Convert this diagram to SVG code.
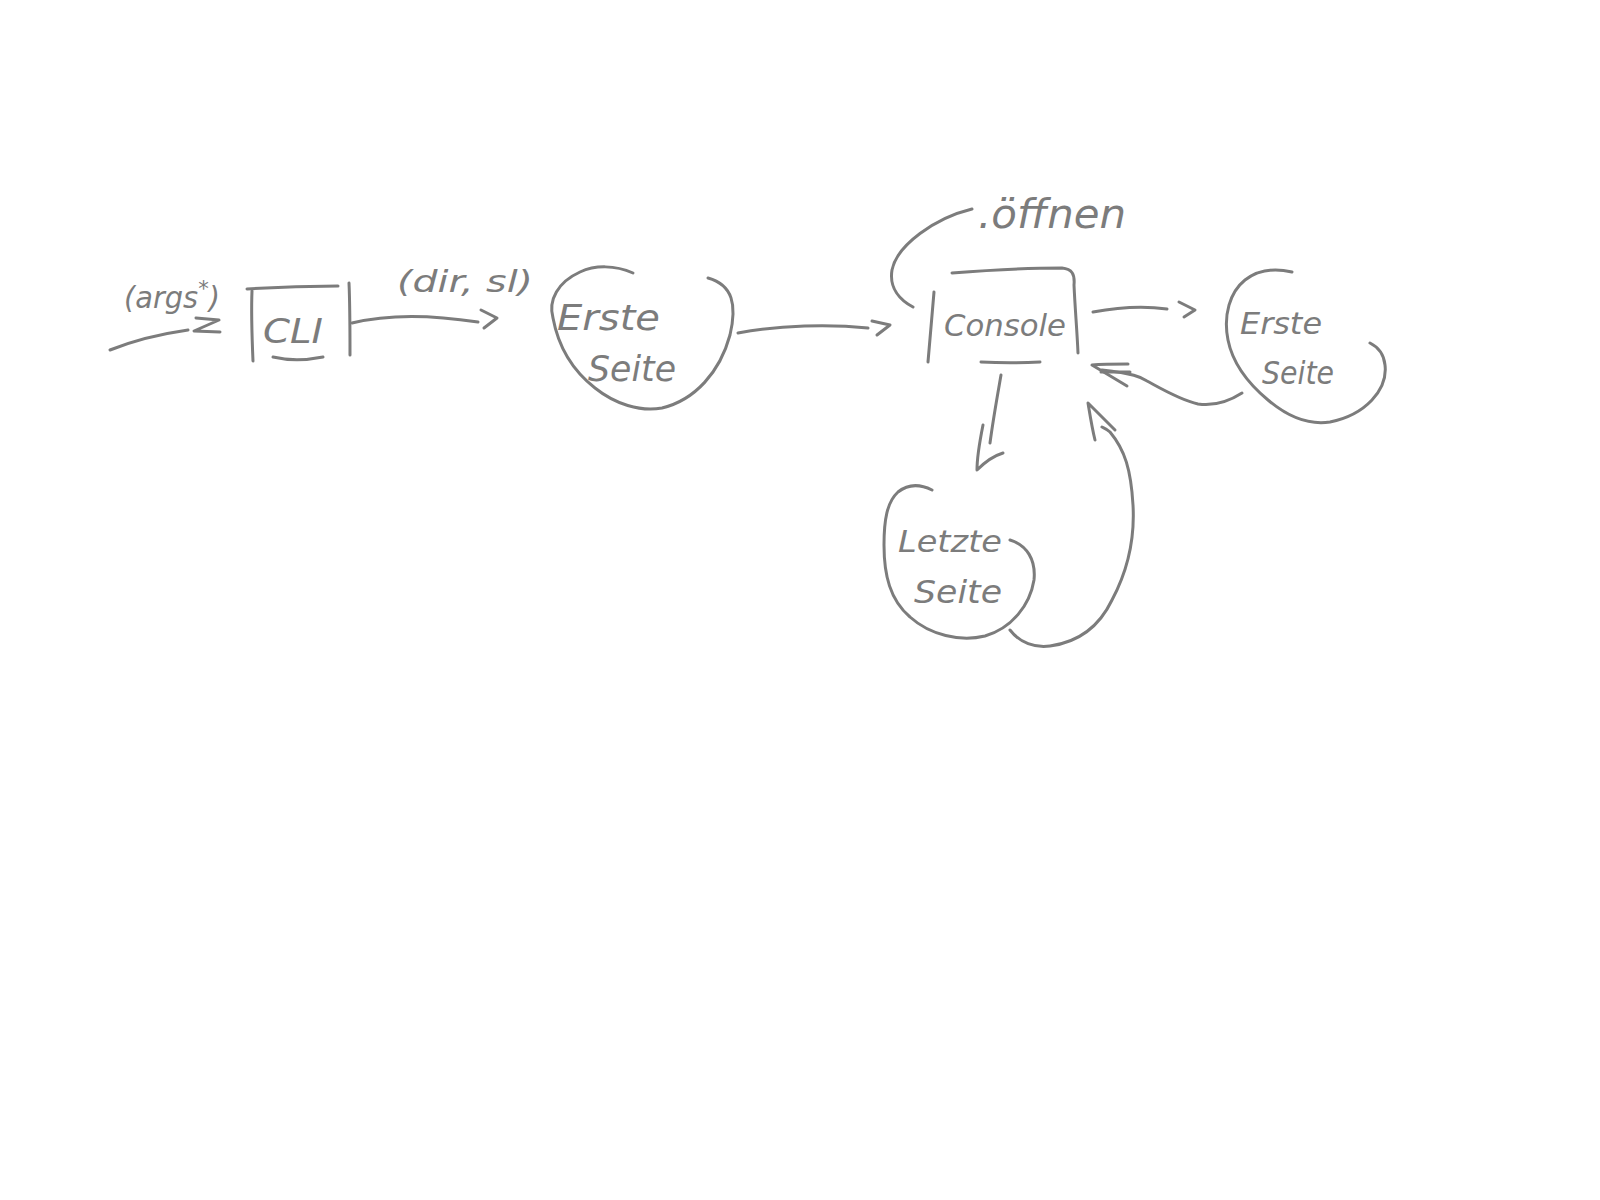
<svg xmlns="http://www.w3.org/2000/svg" width="1600" height="1200" viewBox="0 0 1600 1200">
  <style>
    .ink { fill: none; stroke: #7c7c7c; stroke-width: 3; stroke-linecap: round; stroke-linejoin: round; }
    .hand { fill: #7c7c7c; font-family: "DejaVu Sans", "Liberation Sans", sans-serif; font-style: italic; }
  </style>
  <rect width="1600" height="1200" fill="#ffffff"/>

  <!-- CLI box -->
  <g id="cli">
    <path class="ink" d="M247,289 C277,287 310,286 338,286"/>
    <path class="ink" d="M252,291 C251,315 252,338 253,361"/>
    <path class="ink" d="M349,283 C350,305 350,330 350,355"/>
    <path class="ink" d="M273,357 C290,361 308,360 323,357"/>
    <text class="hand" x="263" y="343" font-size="34" textLength="60" lengthAdjust="spacingAndGlyphs">CLI</text>
  </g>

  <!-- first page, left -->
  <g id="erste-seite-1">
    <path class="ink" d="M633,273 C615,265 595,265 580,272 C558,282 548,300 553,318 C558,345 572,370 595,388 C615,404 640,412 662,408 C695,400 720,372 730,335 C737,305 733,285 708,278"/>
    <text class="hand" x="557" y="330" font-size="36" textLength="103" lengthAdjust="spacingAndGlyphs">Erste</text>
    <text class="hand" x="588" y="381" font-size="36" textLength="88" lengthAdjust="spacingAndGlyphs">Seite</text>
  </g>

  <!-- Console box -->
  <g id="console">
    <path class="ink" d="M952,273 C990,270 1030,268 1062,268 C1072,269 1075,274 1074,285 C1075,308 1077,330 1078,353"/>
    <path class="ink" d="M934,292 C932,315 930,340 928,362"/>
    <path class="ink" d="M981,362 C1000,363 1020,363 1040,362"/>
    <text class="hand" x="944" y="336" font-size="30" textLength="122" lengthAdjust="spacingAndGlyphs">Console</text>
  </g>

  <!-- first page, right -->
  <g id="erste-seite-2">
    <path class="ink" d="M1292,272 C1275,268 1258,270 1245,280 C1230,292 1223,315 1228,340 C1233,365 1250,385 1268,400 C1288,417 1310,425 1330,422 C1365,415 1388,390 1385,365 C1384,355 1378,347 1370,343"/>
    <text class="hand" x="1240" y="334" font-size="30" textLength="82" lengthAdjust="spacingAndGlyphs">Erste</text>
    <text class="hand" x="1262" y="384" font-size="32" textLength="72" lengthAdjust="spacingAndGlyphs">Seite</text>
  </g>

  <!-- last page -->
  <g id="letzte-seite">
    <path class="ink" d="M932,490 C920,484 908,484 898,492 C887,502 884,520 884,545 C884,575 890,600 910,617 C930,635 960,642 985,636 C1012,628 1030,605 1034,580 C1036,560 1027,545 1010,540"/>
    <text class="hand" x="898" y="552" font-size="30" textLength="104" lengthAdjust="spacingAndGlyphs">Letzte</text>
    <text class="hand" x="914" y="603" font-size="32" textLength="88" lengthAdjust="spacingAndGlyphs">Seite</text>
  </g>

  <!-- connectors -->
  <g id="connectors">
    <!-- input into CLI -->
    <path class="ink" d="M110,350 C135,340 160,334 188,330"/>
    <path class="ink" d="M196,318 L219,320 L194,331 L220,332"/>
    <!-- CLI to first page -->
    <path class="ink" d="M352,323 C380,316 420,313 478,322"/>
    <path class="ink" d="M481,310 L497,318 L484,328"/>
    <!-- first page to Console -->
    <path class="ink" d="M738,333 C780,325 830,324 868,328"/>
    <path class="ink" d="M872,321 L890,325 L877,335"/>
    <!-- Console self loop (.öffnen) -->
    <path class="ink" d="M972,209 C935,218 897,245 892,270 C889,288 900,300 913,307"/>
    <!-- Console to first page, right -->
    <path class="ink" d="M1093,312 C1120,307 1145,306 1167,309"/>
    <path class="ink" d="M1179,302 L1195,310 L1184,317"/>
    <!-- first page, right, back to Console -->
    <path class="ink" d="M1242,393 C1228,402 1212,406 1198,404 C1180,400 1160,388 1147,381 C1140,377 1136,374 1102,370"/>
    <path class="ink" d="M1128,364 C1115,364 1103,364 1092,365 L1127,386"/>
    <path class="ink" d="M1101,372 L1130,372"/>
    <!-- Console to last page -->
    <path class="ink" d="M1001,375 C997,398 993,420 990,443"/>
    <path class="ink" d="M983,425 C980,440 977,455 977,470 C985,462 993,456 1003,453"/>
    <!-- last page back to Console -->
    <path class="ink" d="M1010,630 C1020,643 1035,648 1050,646 C1080,642 1100,625 1112,600 C1128,570 1135,540 1133,505 C1131,470 1125,450 1110,432 C1107,429 1104,428 1102,427"/>
    <path class="ink" d="M1095,440 C1092,428 1090,415 1088,403 L1115,430"/>
  </g>

  <!-- labels -->
  <g id="labels">
    <text class="hand" x="124" y="308" font-size="30" textLength="96" lengthAdjust="spacingAndGlyphs">(args<tspan dy="-12" font-size="22">*</tspan><tspan dy="12">)</tspan></text>
    <text class="hand" x="397" y="292" font-size="30" textLength="136" lengthAdjust="spacingAndGlyphs">(dir, sl)</text>
    <text class="hand" x="978" y="228" font-size="40" textLength="148" lengthAdjust="spacingAndGlyphs">.öffnen</text>
  </g>
</svg>
